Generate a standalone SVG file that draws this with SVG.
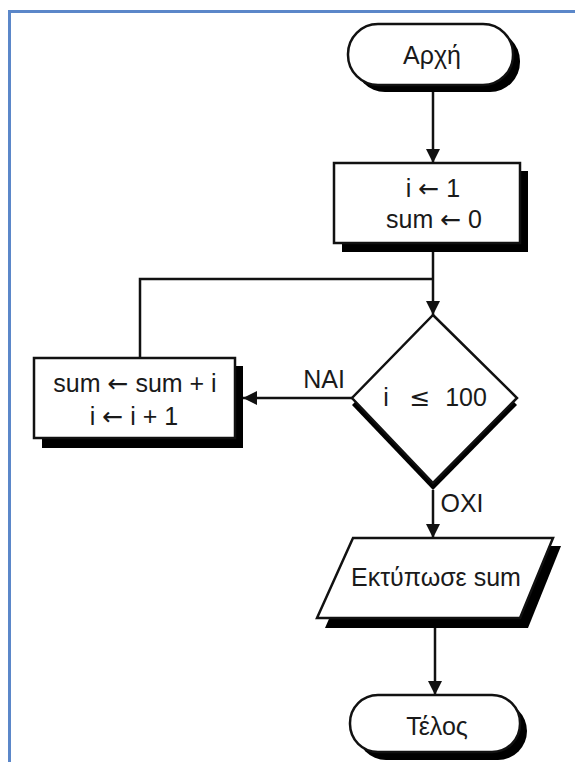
<svg xmlns="http://www.w3.org/2000/svg" width="575" height="762" viewBox="0 0 575 762">
<style>
.sh{fill:#000;stroke:none}
.bx{fill:#fff;stroke:#111;stroke-width:2.5}
.t{font-family:"Liberation Sans","DejaVu Sans",Arial,sans-serif;font-size:25px;fill:#1a1a1a;text-anchor:middle}
.a{font-family:"DejaVu Sans",sans-serif}
.c{fill:none;stroke:#111;stroke-width:2.5}
</style>
<defs>
<marker id="ah" markerWidth="12" markerHeight="14" viewBox="0 0 12 14" refX="14" refY="7" orient="auto" markerUnits="userSpaceOnUse">
<path d="M0,0 L14,7 L0,14 z" fill="#111"/>
</marker>
</defs>
<rect width="575" height="762" fill="#fff"/>
<path d="M9.5,762 V11.5 H575" fill="none" stroke="#5b87c9" stroke-width="3"/>

<g id="start">
<rect class="sh" x="355" y="31" width="165" height="61" rx="30"/>
<rect class="bx" x="348" y="24" width="165" height="61" rx="30"/>
<text class="t" x="432" y="64" font-size="26">Αρχή</text>
</g>

<g id="init">
<rect class="sh" x="342" y="171" width="186" height="81"/>
<rect class="bx" x="334" y="163" width="186" height="80"/>
<text class="t" x="433" y="197">i <tspan class="a">←</tspan> 1</text>
<text class="t" x="434" y="228">sum <tspan class="a">←</tspan> 0</text>
</g>

<g id="cond">
<path class="sh" d="M433,322 L517,405 L433,490 L352,405 z"/>
<path class="bx" d="M433,315 L517,398 L433,483 L352,398 z"/>
<text class="t" x="386" y="406">i</text>
<text class="t a" x="420" y="406">≤</text>
<text class="t" x="466" y="406">100</text>
</g>

<g id="body">
<rect class="sh" x="42" y="366" width="201" height="82"/>
<rect class="bx" x="34" y="358" width="201" height="80"/>
<text class="t" x="135" y="392">sum <tspan class="a">←</tspan> sum + i</text>
<text class="t" x="134" y="425">i <tspan class="a">←</tspan> i + 1</text>
</g>

<g id="print">
<path class="sh" d="M361,546 L561,546 L528,628 L325,628 z"/>
<path class="bx" d="M353,538 L553,538 L520,618 L317,618 z"/>
<text class="t" x="436" y="586" font-size="25.5">Εκτύπωσε sum</text>
</g>

<g id="end">
<rect class="sh" x="357" y="702" width="170" height="58" rx="29"/>
<rect class="bx" x="350" y="695" width="170" height="57" rx="28"/>
<text class="t" x="437" y="735">Τέλος</text>
</g>

<g id="connectors">
<path class="c" d="M433,92 V163" marker-end="url(#ah)"/>
<path class="c" d="M433,252 V315" marker-end="url(#ah)"/>
<path class="c" d="M140,358 V279 H433"/>
<path class="c" d="M352,398 H243" marker-end="url(#ah)"/>
<path class="c" d="M433,490 V538" marker-end="url(#ah)"/>
<path class="c" d="M435,628 V695" marker-end="url(#ah)"/>
<text class="t" x="324" y="388" font-size="23">NAI</text>
<text class="t" x="462" y="512" font-size="23">OXI</text>
</g>
</svg>
